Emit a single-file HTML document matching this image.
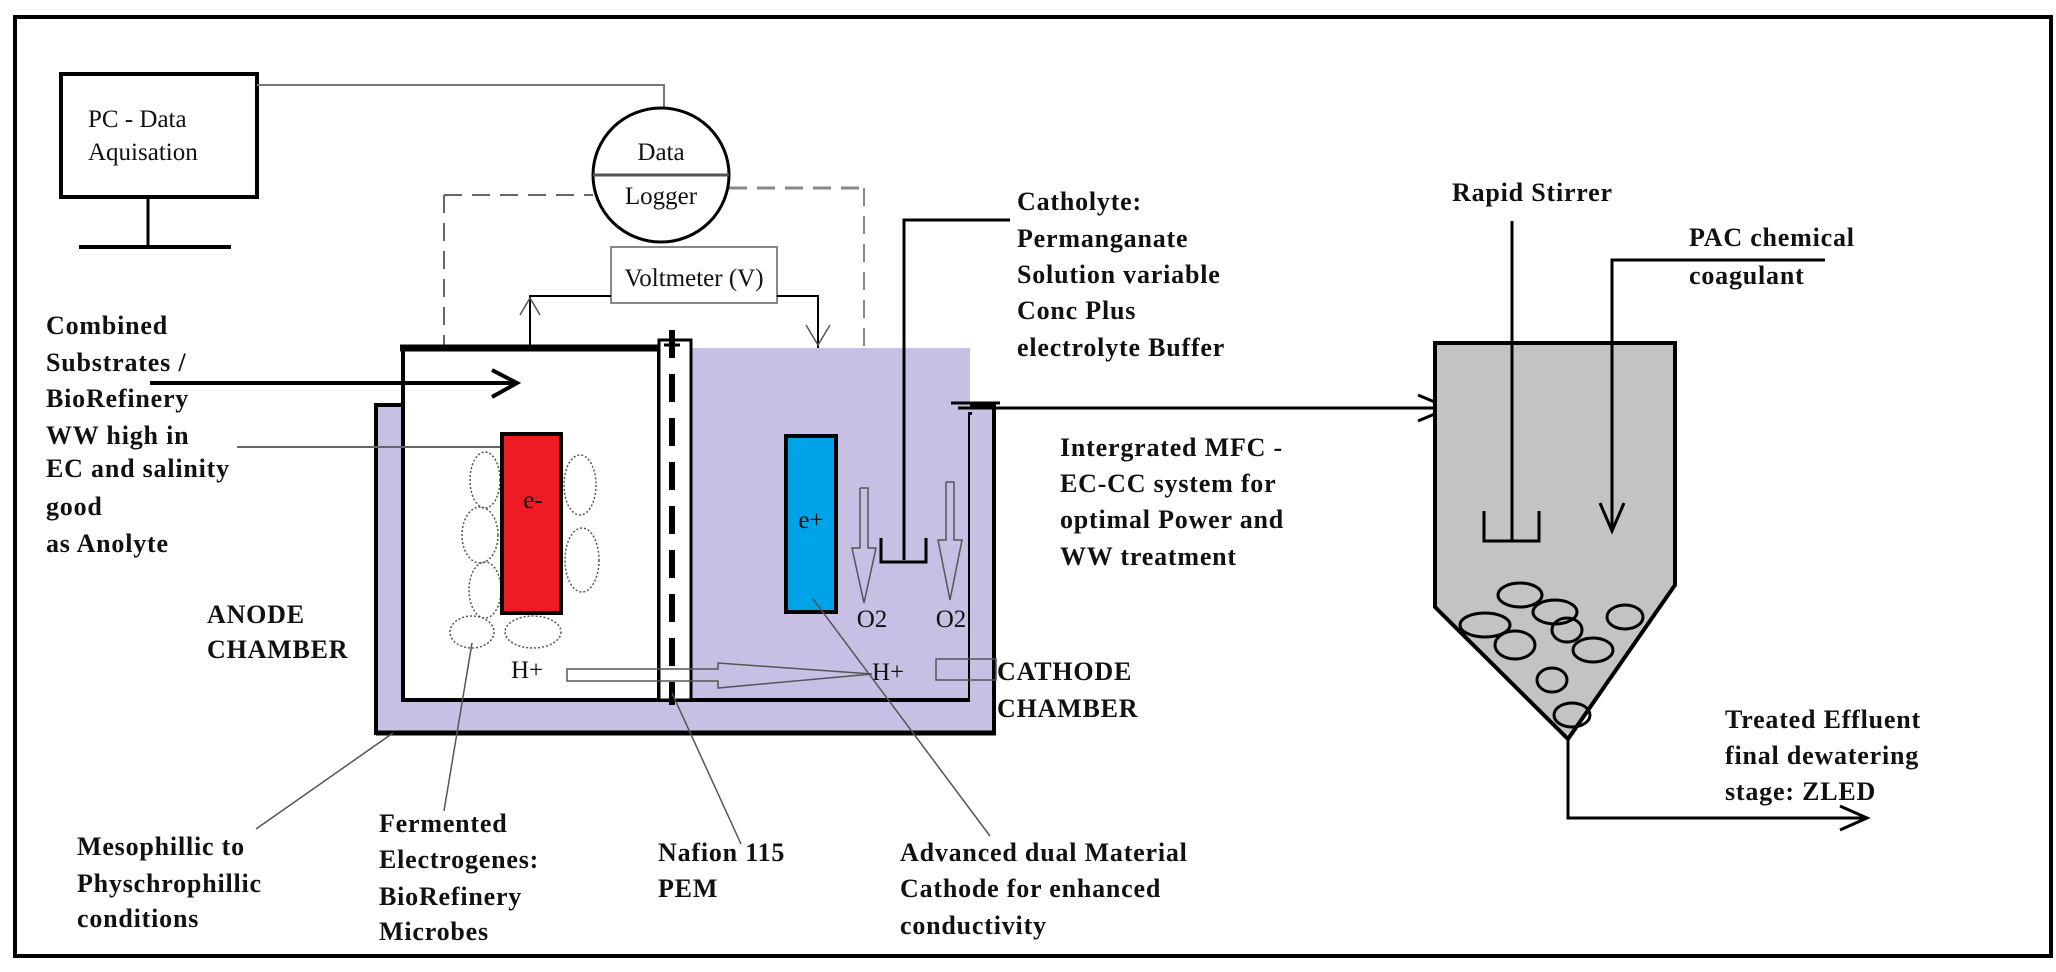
<!DOCTYPE html>
<html><head><meta charset="utf-8"><style>
html,body{margin:0;padding:0;background:#fff;}
svg{display:block;}
.b{font-family:"Liberation Serif",serif;font-weight:bold;font-size:26px;letter-spacing:0.8px;fill:#111;}
.r{font-family:"Liberation Serif",serif;font-size:25px;fill:#111;}
</style></head><body>
<svg width="2056" height="972" viewBox="0 0 2056 972" xmlns="http://www.w3.org/2000/svg">
<rect x="15" y="17" width="2036" height="939" fill="none" stroke="#000" stroke-width="4"/>

<!-- PC -->
<rect x="61" y="74" width="196" height="123" fill="#fff" stroke="#000" stroke-width="4"/>
<text class="r" x="88" y="127" font-size="30">PC - Data</text>
<text class="r" x="88" y="160" font-size="30">Aquisation</text>
<line x1="148" y1="197" x2="148" y2="247" stroke="#000" stroke-width="3"/>
<line x1="79" y1="247" x2="231" y2="247" stroke="#000" stroke-width="4"/>
<polyline points="257,85 664,85 664,108" fill="none" stroke="#777" stroke-width="2"/>

<!-- logger -->
<line x1="444" y1="195" x2="593" y2="195" stroke="#666" stroke-width="2" stroke-dasharray="18,10"/>
<line x1="444" y1="195" x2="444" y2="493" stroke="#666" stroke-width="2" stroke-dasharray="18,10"/>
<line x1="729" y1="188" x2="864" y2="188" stroke="#888" stroke-width="3" stroke-dasharray="18,10"/>
<line x1="864" y1="188" x2="864" y2="488" stroke="#888" stroke-width="2" stroke-dasharray="18,10"/>
<ellipse cx="661" cy="175" rx="68" ry="67" fill="#fff" stroke="#000" stroke-width="3"/>
<line x1="593" y1="175" x2="729" y2="175" stroke="#555" stroke-width="3"/>
<text class="r" x="661" y="160" text-anchor="middle" font-size="30">Data</text>
<text class="r" x="661" y="204" text-anchor="middle" font-size="30">Logger</text>
<rect x="611" y="247" width="166" height="56" fill="#fff" stroke="#888" stroke-width="2"/>
<text class="r" x="694" y="286" text-anchor="middle" font-size="26">Voltmeter (V)</text>
<polyline points="611,296 530,296 530,433" fill="none" stroke="#000" stroke-width="2"/>
<polyline points="520,315 530,298 540,315" fill="none" stroke="#555" stroke-width="1.5"/>
<polyline points="777,296 818,296 818,435" fill="none" stroke="#000" stroke-width="2"/>
<polyline points="806,325 818,345 830,325" fill="none" stroke="#555" stroke-width="1.5"/>

<!-- outer container -->
<rect x="376" y="405" width="618" height="328" fill="#c7c0e4" stroke="#000" stroke-width="4"/>
<rect x="403" y="348" width="256" height="352" fill="#fff" stroke="#000" stroke-width="4"/>
<rect x="692" y="348" width="278" height="352" fill="#c7c0e4"/>
<polyline points="970,412 970,700 659,700" fill="none" stroke="#000" stroke-width="4"/>
<rect x="970" y="415" width="24" height="318" fill="#c7c0e4"/>
<line x1="994" y1="415" x2="994" y2="733" stroke="#000" stroke-width="4"/>
<line x1="376" y1="733" x2="996" y2="733" stroke="#000" stroke-width="5"/>
<line x1="400" y1="348" x2="659" y2="348" stroke="#000" stroke-width="7"/>
<!-- membrane -->
<rect x="659" y="340" width="32" height="360" fill="#fff" stroke="#000" stroke-width="3"/>
<line x1="672" y1="330" x2="672" y2="705" stroke="#000" stroke-width="6" stroke-dasharray="28,16"/>
<line x1="664" y1="345" x2="680" y2="345" stroke="#000" stroke-width="3"/>

<!-- inlet arrow -->
<line x1="150" y1="383" x2="516" y2="383" stroke="#000" stroke-width="4"/>
<polyline points="492,370 517,383 492,397" fill="none" stroke="#000" stroke-width="4"/>
<line x1="237" y1="447" x2="502" y2="447" stroke="#666" stroke-width="2"/>

<!-- microbes -->
<g fill="none" stroke="#555" stroke-width="1.5" stroke-dasharray="2,2">
<ellipse cx="485" cy="480" rx="15" ry="28"/>
<ellipse cx="480" cy="535" rx="18" ry="28"/>
<ellipse cx="485" cy="590" rx="16" ry="28"/>
<ellipse cx="472" cy="632" rx="22" ry="16"/>
<ellipse cx="580" cy="485" rx="16" ry="30"/>
<ellipse cx="582" cy="560" rx="17" ry="32"/>
<ellipse cx="533" cy="632" rx="28" ry="16"/>
</g>
<!-- electrodes -->
<rect x="502" y="434" width="59" height="179" fill="#ed1c24" stroke="#000" stroke-width="4"/>
<text class="r" x="533" y="508" text-anchor="middle" font-size="18">e-</text>
<rect x="786" y="436" width="50" height="176" fill="#00a2e8" stroke="#000" stroke-width="4"/>
<text class="r" x="811" y="528" text-anchor="middle" font-size="18">e+</text>

<!-- O2 arrows -->
<g fill="none" stroke="#555" stroke-width="1.5">
<polyline points="860,488 860,548 852,548 864,603 876,548 868,548 868,488 860,488"/>
<polyline points="946,482 946,540 938,540 950,600 962,540 954,540 954,482 946,482"/>
</g>
<text class="r" x="872" y="627" text-anchor="middle" font-size="22">O2</text>
<text class="r" x="951" y="627" text-anchor="middle" font-size="22">O2</text>
<!-- catholyte pipe -->
<polyline points="1010,220 904,220 904,560" fill="none" stroke="#000" stroke-width="3"/>
<polyline points="881,538 881,562 926,562 926,538" fill="none" stroke="#000" stroke-width="3"/>

<!-- H+ arrow -->
<text class="r" x="511" y="678" font-size="20">H+</text>
<polygon points="567,669 718,669 718,663 872,674 718,688 718,681 567,681" fill="none" stroke="#555" stroke-width="1.5"/>
<text class="r" x="872" y="680" font-size="20">H+</text>
<rect x="936" y="659" width="60" height="21" fill="none" stroke="#555" stroke-width="1.5"/>

<!-- outlet -->
<line x1="951" y1="403" x2="1000" y2="403" stroke="#000" stroke-width="3"/>
<line x1="958" y1="408" x2="1448" y2="408" stroke="#000" stroke-width="3"/>
<polyline points="1418,395 1449,408 1418,421" fill="none" stroke="#000" stroke-width="3"/>

<!-- tank -->
<polygon points="1435,343 1675,343 1675,585 1568,739 1435,607" fill="#c3c3c3" stroke="#000" stroke-width="4"/>
<line x1="1512" y1="221" x2="1512" y2="541" stroke="#000" stroke-width="3"/>
<polyline points="1484,511 1484,541 1539,541 1539,511" fill="none" stroke="#000" stroke-width="3"/>
<polyline points="1825,260 1612,260 1612,531" fill="none" stroke="#000" stroke-width="3"/>
<polyline points="1600,503 1612,531 1624,503" fill="none" stroke="#000" stroke-width="3"/>
<g fill="none" stroke="#000" stroke-width="3">
<ellipse cx="1520" cy="595" rx="22" ry="12"/>
<ellipse cx="1485" cy="625" rx="25" ry="12"/>
<ellipse cx="1555" cy="612" rx="22" ry="12"/>
<ellipse cx="1625" cy="617" rx="18" ry="12"/>
<ellipse cx="1567" cy="630" rx="15" ry="12"/>
<ellipse cx="1515" cy="645" rx="20" ry="14"/>
<ellipse cx="1593" cy="650" rx="20" ry="12"/>
<ellipse cx="1552" cy="680" rx="15" ry="12"/>
<ellipse cx="1572" cy="715" rx="18" ry="12"/>
</g>
<polyline points="1568,739 1568,818 1866,818" fill="none" stroke="#000" stroke-width="3"/>
<polyline points="1840,806 1867,818 1840,830" fill="none" stroke="#000" stroke-width="3"/>

<!-- leader lines -->
<g stroke="#555" stroke-width="1.5">
<line x1="256" y1="829" x2="393" y2="733"/>
<line x1="444" y1="811" x2="472" y2="643"/>
<line x1="741" y1="844" x2="672" y2="693"/>
<line x1="990" y1="836" x2="813" y2="599"/>
</g>

<!-- labels -->
<g class="b">
<text x="46" y="334">Combined</text>
<text x="46" y="371">Substrates /</text>
<text x="46" y="407">BioRefinery</text>
<text x="46" y="444">WW high in</text>
<text x="46" y="477">EC and salinity</text>
<text x="46" y="515">good</text>
<text x="46" y="552">as Anolyte</text>
<text x="207" y="623">ANODE</text>
<text x="207" y="658">CHAMBER</text>
<text x="997" y="680">CATHODE</text>
<text x="997" y="717">CHAMBER</text>
<text x="1017" y="210">Catholyte:</text>
<text x="1017" y="247">Permanganate</text>
<text x="1017" y="283">Solution variable</text>
<text x="1017" y="319">Conc Plus</text>
<text x="1017" y="356">electrolyte Buffer</text>
<text x="1060" y="456">Intergrated MFC -</text>
<text x="1060" y="492">EC-CC system for</text>
<text x="1060" y="528">optimal Power and</text>
<text x="1060" y="565">WW treatment</text>
<text x="1452" y="201">Rapid Stirrer</text>
<text x="1689" y="246">PAC chemical</text>
<text x="1689" y="284">coagulant</text>
<text x="1725" y="728">Treated Effluent</text>
<text x="1725" y="764">final dewatering</text>
<text x="1725" y="800">stage: ZLED</text>
<text x="77" y="855">Mesophillic to</text>
<text x="77" y="892">Physchrophillic</text>
<text x="77" y="927">conditions</text>
<text x="379" y="832">Fermented</text>
<text x="379" y="868">Electrogenes:</text>
<text x="379" y="905">BioRefinery</text>
<text x="379" y="940">Microbes</text>
<text x="658" y="861">Nafion 115</text>
<text x="658" y="897">PEM</text>
<text x="900" y="861">Advanced dual Material</text>
<text x="900" y="897">Cathode for enhanced</text>
<text x="900" y="934">conductivity</text>
</g>
</svg>
</body></html>
